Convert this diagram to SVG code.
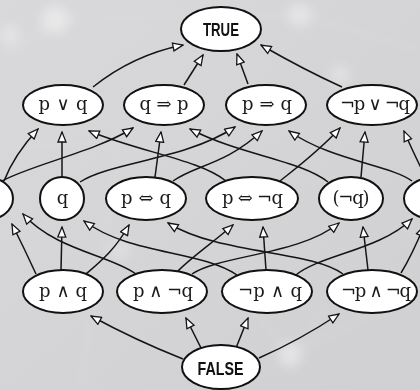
<svg xmlns="http://www.w3.org/2000/svg" width="420" height="390" viewBox="0 0 420 390">
<defs>
<style>
.bg-line{stroke:#ffffff;stroke-opacity:0.28;stroke-width:2;fill:none}
.edge{fill:none;stroke:#151515;stroke-width:1.5;marker-end:url(#arr)}
.node ellipse{fill:#ffffff;stroke:#111111;stroke-width:2}
.lbl{font-family:"DejaVu Serif","Liberation Serif",serif;font-size:18px;fill:#1a1a1a;text-anchor:middle}
.big{font-family:"Liberation Sans Narrow","Liberation Sans","DejaVu Sans",sans-serif;font-weight:bold;font-size:19px;fill:#111111;text-anchor:middle}
</style>
<marker id="arr" viewBox="0 0 12 10" refX="11" refY="5" markerWidth="12" markerHeight="10" markerUnits="userSpaceOnUse" orient="auto">
<path d="M1,1 L11,5 L1,9 Z" fill="#ffffff" stroke="#151515" stroke-width="1.3" stroke-linejoin="miter"/>
</marker>
<filter id="blur" x="-50%" y="-50%" width="200%" height="200%"><feGaussianBlur stdDeviation="6"/></filter>
<linearGradient id="bgg" x1="0" y1="0" x2="1" y2="1">
<stop offset="0" stop-color="#d9d9db"/>
<stop offset="1" stop-color="#d0d0d2"/>
</linearGradient>
</defs>
<rect x="0" y="0" width="420" height="390" fill="url(#bgg)"/>
<g id="background" filter="url(#blur)" opacity="0.8">
<circle cx="55" cy="20" r="14" fill="#ffffff" opacity="0.5"/>
<circle cx="10" cy="35" r="10" fill="#ffffff" opacity="0.4"/>
<circle cx="300" cy="15" r="12" fill="#ffffff" opacity="0.45"/>
<circle cx="340" cy="75" r="10" fill="#ffffff" opacity="0.4"/>
<circle cx="290" cy="355" r="12" fill="#ffffff" opacity="0.5"/>
<circle cx="120" cy="250" r="10" fill="#ffffff" opacity="0.3"/>
<path class="bg-line" d="M0,60 L60,20 L300,15 L420,50"/>
<path class="bg-line" d="M0,150 L120,140 L80,390"/>
<path class="bg-line" d="M290,355 L420,290"/>
<path class="bg-line" d="M230,280 L290,355 L330,300"/>
</g>
<g id="connectors">
<path class="edge" d="M93,87 Q133,55 183,45"/>
<path class="edge" d="M184,85 L203,55"/>
<path class="edge" d="M248,84 L237,54"/>
<path class="edge" d="M342,87 Q303.5,69.5 261,45"/>
<path class="edge" d="M4,181 Q14,155 38,129"/>
<path class="edge" d="M0,182 C30,165 95,152 133,128"/>
<path class="edge" d="M62,177 L62,132"/>
<path class="edge" d="M80,182 C110,162 185,160 235,127"/>
<path class="edge" d="M226,181 C200,160 140,152 89,131"/>
<path class="edge" d="M155,177 L161,132"/>
<path class="edge" d="M173,181 C195,165 225,165 262,131"/>
<path class="edge" d="M328,182 C300,160 240,155 190,129"/>
<path class="edge" d="M361,177 L365,132"/>
<path class="edge" d="M280,181 C300,165 320,150 340,128"/>
<path class="edge" d="M412,181 C390,165 330,160 289,131"/>
<path class="edge" d="M426,178 Q412,150 404,131"/>
<path class="edge" d="M36,274 Q25,250 12,224"/>
<path class="edge" d="M136,274 C110,255 55,250 23,214"/>
<path class="edge" d="M61,270 L62,227"/>
<path class="edge" d="M237,275 C200,250 130,255 84,221"/>
<path class="edge" d="M86,274 C100,262 115,250 129,225"/>
<path class="edge" d="M343,274 C310,250 220,255 168,223"/>
<path class="edge" d="M176,273 C190,258 210,245 233,225"/>
<path class="edge" d="M266,270 L263,227"/>
<path class="edge" d="M192,274 C220,255 300,255 339,223"/>
<path class="edge" d="M368,270 L363,227"/>
<path class="edge" d="M296,275 C320,255 380,250 412,219"/>
<path class="edge" d="M401,273 Q412,255 424,226"/>
<path class="edge" d="M183,359 Q135,340 91,316"/>
<path class="edge" d="M201,348 L186,318"/>
<path class="edge" d="M236,348 L248,318"/>
<path class="edge" d="M259,358 Q300,340 339,314"/>
</g>
<g id="n-true" class="node"><ellipse cx="221" cy="29" rx="40" ry="22"/><text class="big" x="221" y="36" textLength="36" lengthAdjust="spacingAndGlyphs">TRUE</text></g>
<g id="n-porq" class="node"><ellipse cx="63" cy="105" rx="40" ry="20"/><text class="lbl" x="63" y="110" textLength="49" lengthAdjust="spacing">p ∨ q</text></g>
<g id="n-qimpp" class="node"><ellipse cx="164" cy="105" rx="40" ry="20"/><text class="lbl" x="164" y="110" textLength="49" lengthAdjust="spacing">q ⇒ p</text></g>
<g id="n-pimpq" class="node"><ellipse cx="266" cy="105" rx="40" ry="20"/><text class="lbl" x="267" y="110" textLength="50" lengthAdjust="spacing">p ⇒ q</text></g>
<g id="n-npornq" class="node"><ellipse cx="372" cy="105" rx="45" ry="20"/><text class="lbl" x="375" y="110" textLength="70" lengthAdjust="spacing">¬p ∨ ¬q</text></g>
<g id="n-p" class="node"><ellipse cx="-14" cy="198.5" rx="27" ry="21.5"/></g>
<g id="n-q" class="node"><ellipse cx="62" cy="198.5" rx="22" ry="21.5"/><text class="lbl" x="62.5" y="203.5">q</text></g>
<g id="n-piffq" class="node"><ellipse cx="146" cy="198.5" rx="40" ry="21.5"/><text class="lbl" x="146" y="203.5" textLength="50" lengthAdjust="spacing">p ⇔ q</text></g>
<g id="n-piffnq" class="node"><ellipse cx="252" cy="198.5" rx="46" ry="21.5"/><text class="lbl" x="252.5" y="203.5" textLength="61" lengthAdjust="spacing">p ⇔ ¬q</text></g>
<g id="n-nq" class="node"><ellipse cx="351" cy="198.5" rx="32" ry="21.5"/><text class="lbl" x="351" y="203.5" textLength="37" lengthAdjust="spacing">(¬q)</text></g>
<g id="n-np" class="node"><ellipse cx="436" cy="198.5" rx="32" ry="21.5"/></g>
<g id="n-pandq" class="node"><ellipse cx="63" cy="291.5" rx="40" ry="21.5"/><text class="lbl" x="63" y="296.5" textLength="48" lengthAdjust="spacing">p ∧ q</text></g>
<g id="n-pandnq" class="node"><ellipse cx="162" cy="291.5" rx="45" ry="21.5"/><text class="lbl" x="163" y="296.5" textLength="60" lengthAdjust="spacing">p ∧ ¬q</text></g>
<g id="n-npandq" class="node"><ellipse cx="267" cy="291.5" rx="45" ry="21.5"/><text class="lbl" x="270" y="296.5" textLength="64" lengthAdjust="spacing">¬p ∧ q</text></g>
<g id="n-npandnq" class="node"><ellipse cx="372" cy="291.5" rx="45" ry="21.5"/><text class="lbl" x="376" y="296.5" textLength="70" lengthAdjust="spacing">¬p ∧ ¬q</text></g>
<g id="n-false" class="node"><ellipse cx="221" cy="367" rx="39" ry="22"/><text class="big" x="220.5" y="375" textLength="46" lengthAdjust="spacingAndGlyphs">FALSE</text></g>
</svg>
